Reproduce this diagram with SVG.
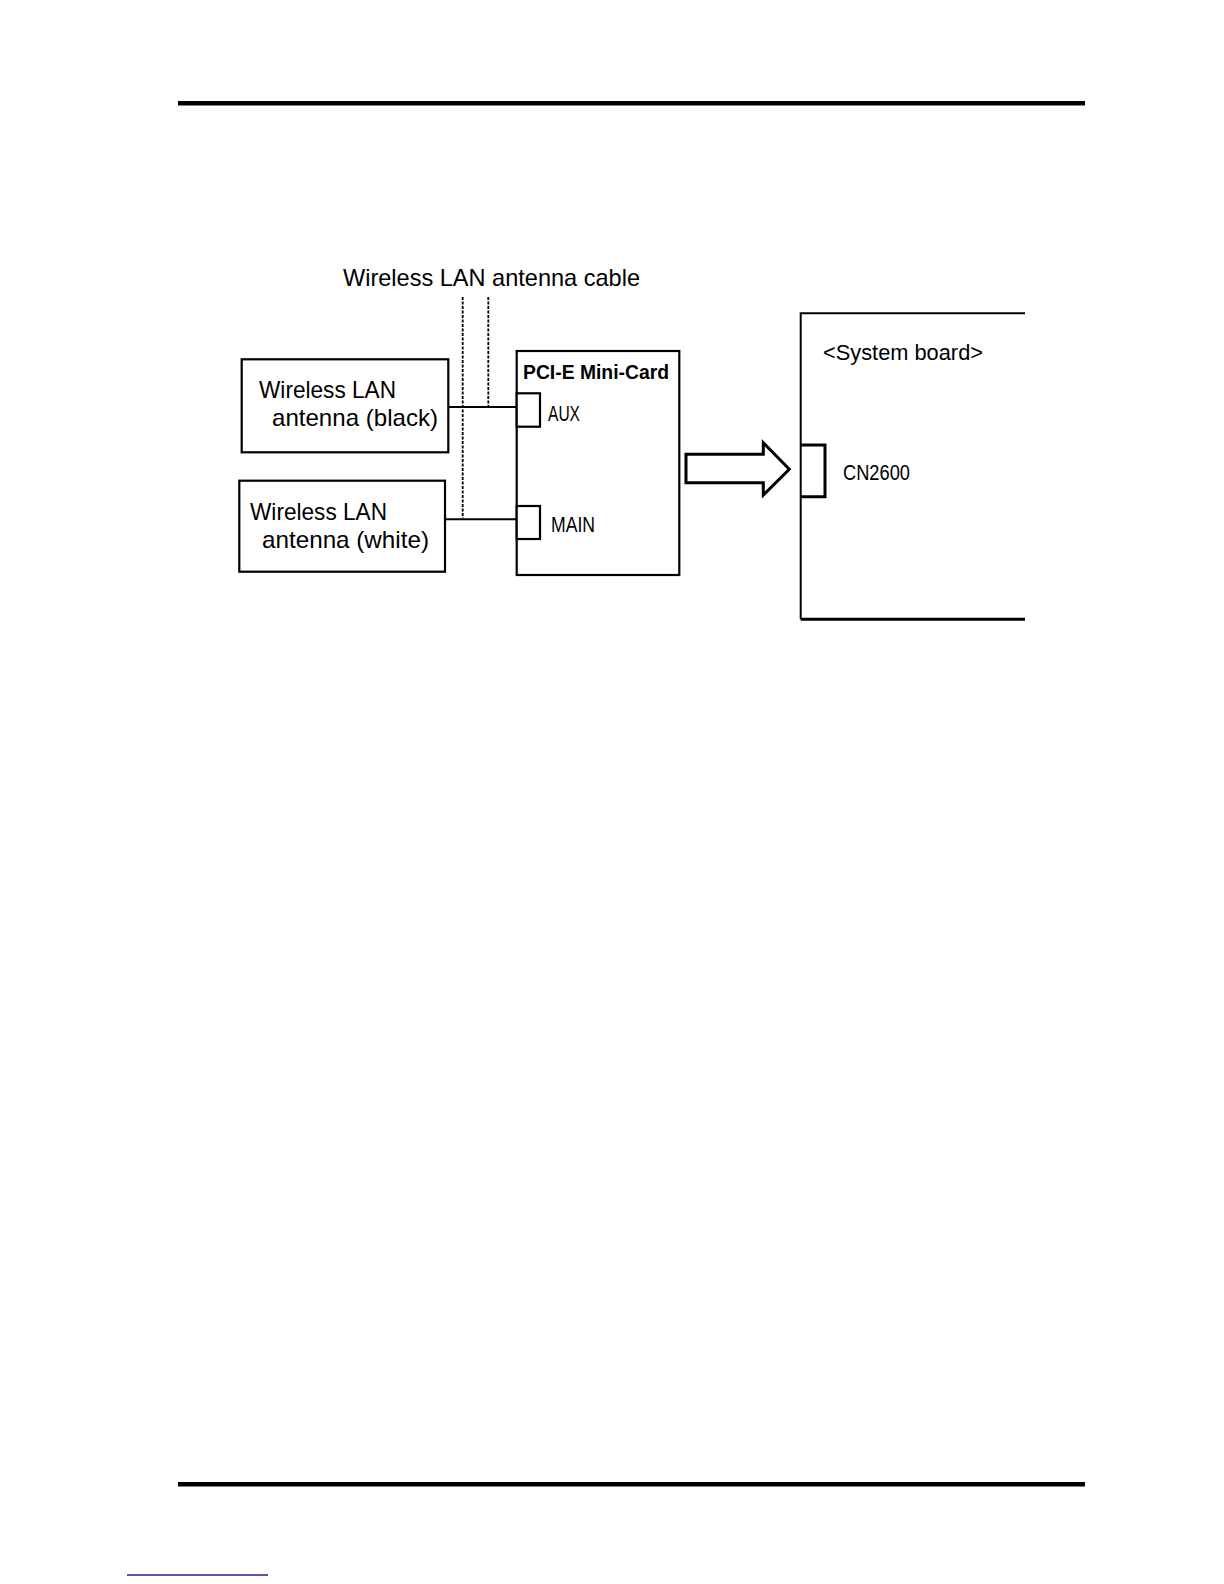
<svg xmlns="http://www.w3.org/2000/svg" width="1224" height="1584" viewBox="0 0 1224 1584">
<style>
.t{font-family:"Liberation Sans","DejaVu Sans",sans-serif;font-size:24px;fill:#000}
.s{font-size:22px}
.b{font-weight:bold;font-size:20px}
.box{fill:#fff;stroke:#000;stroke-width:2.2}
.ln{fill:none;stroke:#000;stroke-width:2}
.dot{fill:none;stroke:#000;stroke-width:1.8;stroke-dasharray:3 1.5}
</style>
<rect x="0" y="0" width="1224" height="1584" fill="#fff"/>
<g id="page-rules">
<rect x="178" y="101" width="907" height="4.5" fill="#000"/>
<rect x="178" y="1482" width="907" height="4.5" fill="#000"/>
<line x1="127" y1="1575" x2="268" y2="1575" stroke="#1c1c96" stroke-width="1.6"/>
</g>
<g id="cable-label">
<text class="t" x="343" y="286" textLength="297" lengthAdjust="spacingAndGlyphs">Wireless LAN antenna cable</text>
</g>
<g id="connectors">
<line class="dot" x1="462.7" y1="297" x2="462.7" y2="518"/>
<line class="dot" x1="488.3" y1="297" x2="488.3" y2="407"/>
<line class="ln" x1="448" y1="407" x2="516.7" y2="407"/>
<line class="ln" x1="445" y1="519.3" x2="516.7" y2="519.3"/>
<polygon points="686,454.3 763.3,454.3 763.3,442.7 789.3,469.3 763.3,495 763.3,482.7 686,482.7" fill="#fff" stroke="#000" stroke-width="3" stroke-linejoin="miter"/>
</g>
<g id="antenna-black">
<rect class="box" x="241.7" y="359.3" width="206.6" height="93"/>
<text class="t" x="259" y="398" textLength="137" lengthAdjust="spacingAndGlyphs">Wireless LAN</text>
<text class="t" x="272" y="426" textLength="166" lengthAdjust="spacingAndGlyphs">antenna (black)</text>
</g>
<g id="antenna-white">
<rect class="box" x="239.3" y="480.7" width="205.7" height="91"/>
<text class="t" x="250" y="520" textLength="137" lengthAdjust="spacingAndGlyphs">Wireless LAN</text>
<text class="t" x="262" y="548" textLength="167" lengthAdjust="spacingAndGlyphs">antenna (white)</text>
</g>
<g id="pci-e-mini-card">
<rect class="box" x="516.7" y="351" width="162.6" height="224"/>
<text class="t b" x="523" y="379" textLength="146" lengthAdjust="spacingAndGlyphs">PCI-E Mini-Card</text>
<rect class="box" x="516.7" y="393.3" width="23.3" height="33.4"/>
<text class="t s" x="548" y="421" textLength="32" lengthAdjust="spacingAndGlyphs">AUX</text>
<rect class="box" x="516.7" y="506" width="23.3" height="33"/>
<text class="t s" x="551" y="532" textLength="44" lengthAdjust="spacingAndGlyphs">MAIN</text>
</g>
<g id="system-board">
<path d="M1025 313.3 H800.7 V619.3" fill="none" stroke="#000" stroke-width="2"/>
<line x1="800.7" y1="619.3" x2="1025" y2="619.3" stroke="#000" stroke-width="3"/>
<text class="t s" x="823" y="360" textLength="160" lengthAdjust="spacingAndGlyphs">&lt;System board&gt;</text>
<path d="M800.7 445 H825 V496.7 H800.7" fill="none" stroke="#000" stroke-width="3"/>
<text class="t s" x="843" y="480" textLength="67" lengthAdjust="spacingAndGlyphs">CN2600</text>
</g>
</svg>
